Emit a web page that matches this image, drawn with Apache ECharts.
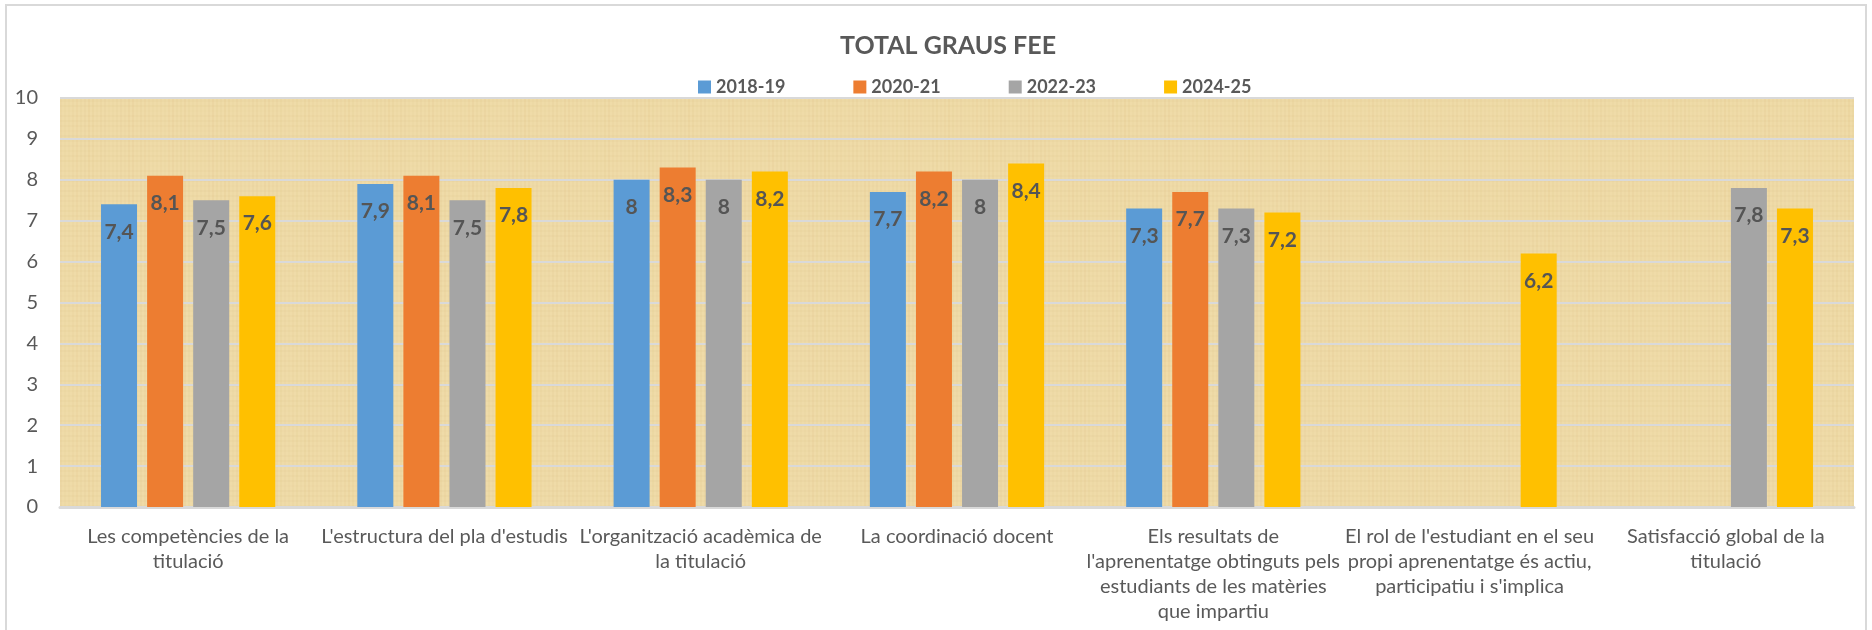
<!DOCTYPE html>
<html>
<head>
<meta charset="utf-8">
<script src="https://cdn.jsdelivr.net/npm/echarts@6/dist/echarts.min.js"></script>
<style>
  html, body { margin: 0; padding: 0; background: #fff; }
  #chart { width: 1872px; height: 630px; }
</style>
</head>
<body>
<div id="chart"></div>
<script>
const categories = [
  'Les competències de la\ntitulació',
  "L'estructura del pla d'estudis",
  "L'organització acadèmica de\nla titulació",
  'La coordinació docent',
  "Els resultats de\nl'aprenentatge obtinguts pels\nestudiants de les matèries\nque impartiu",
  "El rol de l'estudiant en el seu\npropi aprenentatge és actiu,\nparticipatiu i s'implica",
  'Satisfacció global de la\ntitulació'
];
const seriesNames = ['2018-19', '2020-21', '2022-23', '2024-25'];
const v2018 = [7.4, 7.9, 8, 7.7, 7.3, null, null];
const v2020 = [8.1, 8.1, 8.3, 8.2, 7.7, null, null];
const v2022 = [7.5, 7.5, 8, 8, 7.3, null, 7.8];
const v2024 = [7.6, 7.8, 8.2, 8.4, 7.2, 6.2, 7.3];
const colors = ['#5B9BD5', '#ED7D31', '#A5A5A5', '#FFC000'];

// papyrus-like texture for the plot background (fibres in both directions)
function papyrus() {
  const c = document.createElement('canvas');
  c.width = 300; c.height = 300;
  const g = c.getContext('2d');
  g.fillStyle = '#EFDBA8';
  g.fillRect(0, 0, 300, 300);
  for (let i = 0; i < 300; i += 4) {
    const a = 0.03 + 0.05 * Math.abs(Math.sin(i * 0.23) * Math.cos(i * 0.071));
    g.fillStyle = 'rgba(200,160,90,' + a + ')';
    g.fillRect(i, 0, 2, 300);
  }
  for (let j = 0; j < 300; j += 5) {
    const a = 0.02 + 0.04 * Math.abs(Math.sin(j * 0.17));
    g.fillStyle = 'rgba(205,165,95,' + a + ')';
    g.fillRect(0, j, 300, 2);
  }
  return c;
}

const chart = echarts.init(document.getElementById('chart'));

function mkSeries(i, data) {
  return {
    name: seriesNames[i],
    type: 'bar',
    data: data,
    barWidth: 36,
    barGap: '28%',
    itemStyle: { color: colors[i] },
    label: {
      show: true,
      position: 'insideTop',
      distance: 17,
      color: '#555555',
      fontFamily: 'Lato',
      fontWeight: 'bold',
      fontSize: 21,
      formatter: p => String(p.value).replace('.', ',')
    }
  };
}

chart.setOption({
  animation: false,
  graphic: [{
    type: 'rect',
    shape: { x: 6, y: 5, width: 1860, height: 640 },
    style: { fill: 'none', stroke: '#D9D9D9', lineWidth: 2 },
    silent: true
  }],
  title: {
    text: 'TOTAL GRAUS FEE',
    left: 943,
    textAlign: 'center',
    top: 28,
    textStyle: { fontFamily: 'Lato', fontWeight: 'bold', fontSize: 25, color: '#595959' }
  },
  legend: {
    data: seriesNames,
    top: 73,
    left: 693,
    itemWidth: 13,
    itemHeight: 13,
    itemGap: 68,
    icon: 'rect',
    textStyle: { fontFamily: 'Lato', fontWeight: 'bold', fontSize: 18, color: '#595959' }
  },
  grid: {
    left: 60,
    right: 18,
    top: 98,
    bottom: 123,
    show: true,
    borderWidth: 0,
    backgroundColor: { image: papyrus(), repeat: 'repeat' }
  },
  xAxis: {
    type: 'category',
    data: categories,
    axisTick: { show: false },
    axisLine: { lineStyle: { color: '#D9D9D9', width: 3 } },
    axisLabel: {
      interval: 0,
      margin: 17,
      fontFamily: 'Lato',
      fontSize: 20,
      lineHeight: 25,
      color: '#595959'
    }
  },
  yAxis: {
    type: 'value',
    min: 0,
    max: 10,
    interval: 1,
    axisLine: { show: false },
    axisTick: { show: false },
    splitLine: { lineStyle: { color: '#D9D9D9', width: 2 } },
    axisLabel: { fontFamily: 'Lato', fontSize: 20, color: '#595959', margin: 22 }
  },
  series: [
    mkSeries(0, v2018),
    mkSeries(1, v2020),
    mkSeries(2, v2022),
    mkSeries(3, v2024)
  ]
});
</script>
</body>
</html>
